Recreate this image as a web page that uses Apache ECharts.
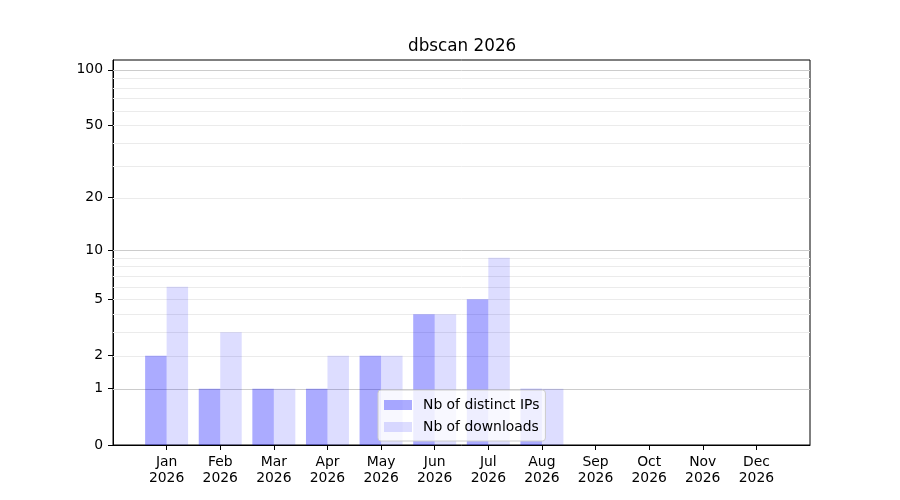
<!DOCTYPE html>
<html>
<head>
<meta charset="utf-8">
<script src="https://cdn.jsdelivr.net/npm/echarts@6/dist/echarts.min.js"></script>
<style>html,body{margin:0;padding:0;background:#fff}#c{width:900px;height:500px}</style>
</head>
<body>
<div id="c"></div>
<script>
var months = ['Jan','Feb','Mar','Apr','May','Jun','Jul','Aug','Sep','Oct','Nov','Dec'];
var year = '2026';
var distinctIPs = [2, 1, 1, 1, 2, 4, 5, 1, 0, 0, 0, 0];
var downloads   = [6, 3, 1, 2, 2, 4, 9, 1, 0, 0, 0, 0];
var yTickValues = [0, 1, 2, 5, 10, 20, 50, 100];
var majorGrid = [1, 10, 100];
var minorGrid = [2, 3, 4, 5, 6, 7, 8, 9, 20, 30, 40, 50, 60, 70, 80, 90];
var yTop = 113;

function tf(v) { return Math.log10(v + 1); }
function inv(t) { return Math.pow(10, t) - 1; }

var cats = [''].concat(months.map(function (m) { return m + '\n' + year; })).concat(['']);
function pad(arr) { return [null].concat(arr.map(tf)).concat([null]); }

var font = 'DejaVu Sans';
var gridData = majorGrid.map(function (v) { return [tf(v), 1]; })
  .concat(minorGrid.map(function (v) { return [tf(v), 0]; }));

var chart = echarts.init(document.getElementById('c'), null, { renderer: 'canvas' });
chart.setOption({
  animation: false,
  backgroundColor: '#ffffff',
  title: {
    text: 'dbscan ' + year,
    left: 403, top: 33,
    textStyle: { fontFamily: font, fontSize: 16.8, fontWeight: 'normal', color: '#000' }
  },
  grid: { left: 113, right: 90, top: 60, bottom: 55, show: true, borderColor: '#000', borderWidth: 1, containLabel: false },
  legend: {
    orient: 'vertical', left: 378, top: 390,
    itemWidth: 28, itemHeight: 10, itemGap: 8,
    padding: [8, 6, 7, 6],
    backgroundColor: 'rgba(255,255,255,0.8)', borderColor: '#cccccc', borderWidth: 1, borderRadius: 3,
    icon: 'rect',
    textStyle: { fontFamily: font, fontSize: 13.9, color: '#000', padding: [0, 0, 0, 6] },
    data: ['Nb of distinct IPs', 'Nb of downloads']
  },
  xAxis: {
    type: 'category', data: cats, boundaryGap: false,
    axisLine: { show: true, lineStyle: { color: '#000', width: 1 } },
    axisTick: { show: true, length: 5, interval: function (i) { return i > 0 && i < cats.length - 1; }, lineStyle: { color: '#000' } },
    axisLabel: { interval: 0, color: '#000', fontFamily: font, fontSize: 13.9, lineHeight: 16, margin: 9 },
    splitLine: { show: false }
  },
  yAxis: {
    type: 'value', min: 0, max: tf(yTop),
    axisLine: { show: true, lineStyle: { color: '#000', width: 1 } },
    axisTick: { show: true, length: 5, customValues: yTickValues.map(tf), lineStyle: { color: '#000' } },
    axisLabel: {
      customValues: yTickValues.map(tf), color: '#000', fontFamily: font, fontSize: 13.9, margin: 10,
      formatter: function (v) { return String(Math.round(inv(v))); }
    },
    splitLine: { show: false },
    minorTick: { show: false },
    minorSplitLine: { show: false }
  },
  series: [
    {
      type: 'custom', silent: true, z: 1,
      data: gridData,
      encode: { y: 0 },
      renderItem: function (params, api) {
        var cs = params.coordSys;
        var y = api.coord([0, api.value(0)])[1];
        y = Math.round(y) + 0.5;
        return {
          type: 'line',
          shape: { x1: cs.x, y1: y, x2: cs.x + cs.width, y2: y },
          style: { stroke: api.value(1) ? '#cccccc' : '#ebebeb', lineWidth: 1 }
        };
      }
    },
    {
      name: 'Nb of distinct IPs', type: 'bar', data: pad(distinctIPs),
      barWidth: 21.5, barGap: '0%',
      itemStyle: { color: 'rgba(0,0,255,0.33)' },
      z: 2
    },
    {
      name: 'Nb of downloads', type: 'bar', data: pad(downloads),
      barWidth: 21.5, barGap: '0%',
      itemStyle: { color: 'rgba(0,0,255,0.135)' },
      z: 2
    }
  ]
});
</script>
</body>
</html>
